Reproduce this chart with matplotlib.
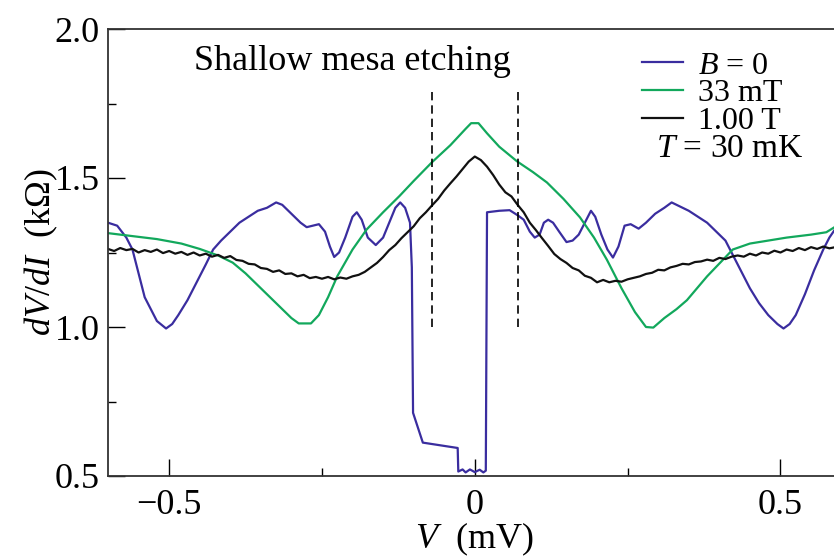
import matplotlib
matplotlib.use("Agg")
import matplotlib.pyplot as plt
from matplotlib.ticker import MultipleLocator

plt.rcParams['font.family'] = ['Liberation Serif', 'DejaVu Serif']
plt.rcParams['mathtext.fontset'] = 'custom'
plt.rcParams['mathtext.rm'] = 'Liberation Serif'
plt.rcParams['mathtext.it'] = 'Liberation Serif:italic'

# B = 0 curve
blueV = [-0.600, -0.585, -0.570, -0.560, -0.550, -0.540, -0.530, -0.520, -0.505, -0.495,
         -0.485, -0.470, -0.455, -0.440, -0.428, -0.415, -0.400, -0.385, -0.370, -0.355,
         -0.340, -0.325, -0.315, -0.300, -0.285, -0.275, -0.265, -0.255, -0.245, -0.237,
         -0.230, -0.222, -0.212, -0.200, -0.193, -0.185, -0.175, -0.162, -0.150, -0.140,
         -0.130, -0.122, -0.114, -0.106, -0.103, -0.101, -0.085, -0.028, -0.027, -0.020,
         -0.015, -0.008, 0.000, 0.008, 0.014, 0.018, 0.020, 0.040, 0.057, 0.070,
         0.080, 0.090, 0.098, 0.106, 0.113, 0.120, 0.128, 0.138, 0.150, 0.160,
         0.170, 0.180, 0.190, 0.197, 0.207, 0.217, 0.226, 0.235, 0.245, 0.255,
         0.268, 0.280, 0.295, 0.310, 0.322, 0.335, 0.350, 0.365, 0.380, 0.395,
         0.410, 0.420, 0.435, 0.450, 0.465, 0.480, 0.495, 0.505, 0.515, 0.525,
         0.540, 0.555, 0.570, 0.580, 0.590]
blueR = [1.350, 1.340, 1.300, 1.260, 1.180, 1.100, 1.060, 1.020, 0.995, 1.010,
         1.040, 1.090, 1.150, 1.210, 1.260, 1.290, 1.320, 1.350, 1.370, 1.390,
         1.400, 1.418, 1.410, 1.380, 1.350, 1.335, 1.340, 1.345, 1.320, 1.270,
         1.235, 1.250, 1.300, 1.370, 1.385, 1.360, 1.300, 1.275, 1.300, 1.350,
         1.400, 1.418, 1.400, 1.350, 1.200, 0.712, 0.612, 0.594, 0.515, 0.522,
         0.512, 0.522, 0.513, 0.521, 0.512, 0.518, 1.385, 1.390, 1.392, 1.375,
         1.360, 1.320, 1.300, 1.310, 1.350, 1.360, 1.350, 1.320, 1.285, 1.290,
         1.310, 1.350, 1.390, 1.370, 1.310, 1.260, 1.233, 1.270, 1.340, 1.345,
         1.330, 1.350, 1.380, 1.400, 1.418, 1.405, 1.390, 1.370, 1.350, 1.320,
         1.290, 1.250, 1.190, 1.130, 1.080, 1.040, 1.010, 0.995, 1.010, 1.040,
         1.110, 1.190, 1.260, 1.300, 1.330]

# 33 mT curve
greenV = [-0.600, -0.560, -0.520, -0.480, -0.450, -0.420, -0.396, -0.375, -0.350, -0.325,
          -0.300, -0.288, -0.268, -0.255, -0.240, -0.225, -0.200, -0.177, -0.150, -0.123,
          -0.100, -0.070, -0.040, -0.015, -0.006, 0.006, 0.020, 0.040, 0.069, 0.095,
          0.118, 0.145, 0.172, 0.195, 0.216, 0.240, 0.262, 0.280, 0.292, 0.310,
          0.330, 0.347, 0.380, 0.422, 0.450, 0.480, 0.510, 0.550, 0.575, 0.590]
greenR = [1.315, 1.305, 1.295, 1.280, 1.262, 1.240, 1.216, 1.180, 1.130, 1.080,
          1.030, 1.012, 1.012, 1.040, 1.100, 1.170, 1.260, 1.327, 1.385, 1.440,
          1.490, 1.553, 1.610, 1.665, 1.684, 1.684, 1.650, 1.605, 1.556, 1.520,
          1.485, 1.430, 1.368, 1.300, 1.226, 1.130, 1.050, 1.000, 0.998, 1.030,
          1.060, 1.090, 1.170, 1.260, 1.280, 1.290, 1.300, 1.310, 1.318, 1.337]

# 1.00 T curve
blackV = [-0.60, -0.59, -0.58, -0.57, -0.56, -0.55, -0.54, -0.53, -0.52, -0.51,
          -0.50, -0.49, -0.48, -0.47, -0.46, -0.45, -0.44, -0.43, -0.42, -0.41,
          -0.40, -0.39, -0.38, -0.37, -0.36, -0.35, -0.34, -0.33, -0.32, -0.31,
          -0.30, -0.29, -0.28, -0.27, -0.26, -0.25, -0.24, -0.23, -0.22, -0.21,
          -0.20, -0.19, -0.18, -0.17, -0.16, -0.15, -0.14, -0.13, -0.12, -0.11,
          -0.10, -0.09, -0.08, -0.07, -0.06, -0.05, -0.04, -0.03, -0.02, -0.01,
          0.00, 0.01, 0.02, 0.03, 0.04, 0.05, 0.06, 0.07, 0.08, 0.09,
          0.10, 0.11, 0.12, 0.13, 0.14, 0.15, 0.16, 0.17, 0.18, 0.19,
          0.20, 0.21, 0.22, 0.23, 0.24, 0.25, 0.26, 0.27, 0.28, 0.29,
          0.30, 0.31, 0.32, 0.33, 0.34, 0.35, 0.36, 0.37, 0.38, 0.39,
          0.40, 0.41, 0.42, 0.43, 0.44, 0.45, 0.46, 0.47, 0.48, 0.49,
          0.50, 0.51, 0.52, 0.53, 0.54, 0.55, 0.56, 0.57, 0.58, 0.59]
blackR = [1.262, 1.255, 1.265, 1.258, 1.262, 1.250, 1.258, 1.252, 1.260, 1.248,
          1.255, 1.246, 1.252, 1.242, 1.250, 1.240, 1.246, 1.236, 1.242, 1.232,
          1.238, 1.225, 1.222, 1.212, 1.210, 1.198, 1.195, 1.185, 1.190, 1.178,
          1.180, 1.170, 1.175, 1.164, 1.168, 1.162, 1.168, 1.160, 1.166, 1.162,
          1.170, 1.175, 1.185, 1.200, 1.215, 1.235, 1.258, 1.275, 1.298, 1.318,
          1.338, 1.365, 1.385, 1.408, 1.430, 1.458, 1.482, 1.505, 1.530, 1.555,
          1.572, 1.560, 1.538, 1.510, 1.478, 1.452, 1.438, 1.410, 1.385, 1.350,
          1.325, 1.298, 1.272, 1.245, 1.228, 1.215, 1.198, 1.190, 1.172, 1.165,
          1.150, 1.158, 1.150, 1.155, 1.152, 1.160, 1.165, 1.170, 1.178, 1.182,
          1.192, 1.190, 1.200, 1.205, 1.212, 1.210, 1.218, 1.220, 1.226, 1.222,
          1.232, 1.228, 1.236, 1.240, 1.236, 1.246, 1.240, 1.250, 1.246, 1.256,
          1.250, 1.260, 1.255, 1.265, 1.258, 1.268, 1.262, 1.270, 1.264, 1.268]

labels = ['$B$ = 0', '33 mT', '1.00 T']
colors = ['#3a2d9f', '#12a85c', '#111111']
dashX = [-0.07, 0.07]
dashY = [1.0, 1.8]

fig = plt.figure(figsize=(8.34, 5.6), dpi=100)
ax = fig.add_axes([108/834, 84/560, 733.6/834, 447/560])

ax.plot(blueV, blueR, color=colors[0], lw=1.6, label=labels[0])
ax.plot(greenV, greenR, color=colors[1], lw=1.6, label=labels[1])
ax.plot(blackV, blackR, color=colors[2], lw=1.6, label=labels[2])

for x in dashX:
    ax.plot([x, x], dashY, color='black', lw=1.2, ls=(0, (5, 3)))

ax.set_xlim(-0.6, 0.6)
ax.set_ylim(0.5, 2.0)
ax.xaxis.set_minor_locator(MultipleLocator(0.25))
ax.yaxis.set_minor_locator(MultipleLocator(0.25))
ax.set_xticks([-0.5, 0, 0.5])
ax.set_xticklabels(['\u22120.5', '0', '0.5'])
ax.set_yticks([0.5, 1.0, 1.5, 2.0])
ax.set_yticklabels(['0.5', '1.0', '1.5', '2.0'])

ax.tick_params(which='both', direction='in', top=False, right=False, width=1, labelsize=26)
ax.tick_params(which='major', length=12)
ax.tick_params(which='minor', length=6)
ax.tick_params(axis='x', pad=9)
ax.tick_params(axis='y', pad=6)
for s in ax.spines.values():
    s.set_linewidth(1.3)
    s.set_color('#333333')

ax.set_xlabel('$V$  (mV)', fontsize=26)
ax.set_ylabel('$dV/dI$  (k\u03a9)', fontsize=26)
ax.xaxis.set_label_coords(0.5, -0.1)
ax.yaxis.set_label_coords(-0.066, 0.5)

ax.text(-0.2, 1.892, 'Shallow mesa etching', fontsize=26, ha='center', va='center')

leg = ax.legend(loc='upper right', bbox_to_anchor=(0.945, 0.993), frameon=False,
                fontsize=23, handlelength=1.3, handletextpad=0.45,
                labelspacing=-0.05, borderaxespad=0.2)
ax.text(0.417, 1.598, '$T$ = 30 mK', fontsize=24, ha='center', va='center')

fig.savefig('out.png', dpi=100)
